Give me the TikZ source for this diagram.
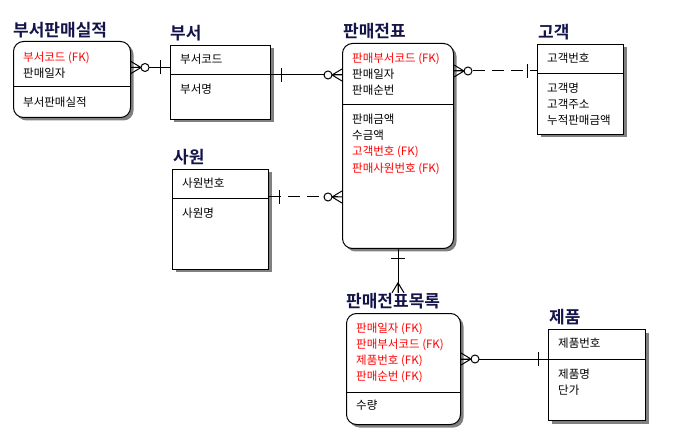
\documentclass[tikz,border=0pt]{standalone}
\usepackage{fontspec}
\setmainfont{Noto Sans CJK KR}[BoldFont={Noto Sans CJK KR Bold}]
\usepackage{xcolor}
\usepackage{tikz}
\usetikzlibrary{positioning, shadows}
\definecolor{fkred}{HTML}{FF0000}
\definecolor{titlenavy}{HTML}{14144A}

\tikzset{
  entity/.style={draw, line width=1pt, fill=white, inner sep=0pt, anchor=north west,
    drop shadow={shadow xshift=3pt, shadow yshift=-3pt, fill=black!50, opacity=1}},
  weak/.style={entity, rounded corners=10pt},
  title/.style={anchor=west, inner sep=0pt, text=titlenavy,
    font=\fontsize{17}{20}\selectfont\bfseries, text height=14.5pt, text depth=1.5pt},
  row/.style={anchor=west, inner sep=0pt,
    font=\fontsize{11.5}{13}\selectfont, text height=9.8pt, text depth=1pt},
  fk/.style={row, text=fkred},
  rel/.style={line width=1pt},
  nonid/.style={rel, dash pattern=on 12pt off 7pt},
  zeromany/.pic={
    \draw[line width=1pt] (0,-6) -- (10,0) -- (0,6) (0,0) -- (10,0);
    \draw[line width=1pt, fill=white] (14,0) circle (4);},
  onemany/.pic={
    \draw[line width=1pt] (0,-6) -- (10,0) -- (0,6) (0,0) -- (10,0);},
  onebar/.pic={
    \draw[line width=1pt] (10,-7) -- (10,7);}
}

\begin{document}
\begin{tikzpicture}[x=1pt, y=-1pt]
  \fill[white] (0,0) rectangle (679,443);
  \useasboundingbox (0,0) rectangle (679,443);

  % entities
  \node[weak, minimum width=117pt, minimum height=76pt] (bsjs) at (13,41) {};
  \node[title] (bsjsT) at (13,30) {부서판매실적};
  \draw[rel] (bsjs.west |- 0,87) -- (bsjs.east |- 0,87);
  \node[fk] (bsjs-a1) at (23,57) {부서코드 (FK)};
  \node[row] (bsjs-a2) at (23,73) {판매일자};
  \node[row] (bsjs-b1) at (23,102) {부서판매실적};

  \node[entity, minimum width=100pt, minimum height=74pt] (bs) at (170,45) {};
  \node[title] (bsT) at (170,33) {부서};
  \draw[rel] (bs.west |- 0,75) -- (bs.east |- 0,75);
  \node[row] (bs-a1) at (180,59) {부서코드};
  \node[row] (bs-b1) at (180,89) {부서명};

  \node[weak, minimum width=111pt, minimum height=205pt] (pmjp) at (342,43) {};
  \node[title] (pmjpT) at (343,31) {판매전표};
  \draw[rel] (pmjp.west |- 0,105) -- (pmjp.east |- 0,105);
  \foreach \s/\t [count=\i] in {fk/판매부서코드 (FK), row/판매일자, row/판매순번}
    \node[\s] (pmjp-a\i) at (352,{58+16*(\i-1)}) {\t};
  \foreach \s/\t [count=\i] in {row/판매금액, row/수금액, fk/고객번호 (FK), fk/판매사원번호 (FK)}
    \node[\s] (pmjp-b\i) at (352,{119+16.3*(\i-1)}) {\t};

  \node[entity, minimum width=86pt, minimum height=90pt] (gk) at (537,44) {};
  \node[title] (gkT) at (538,32) {고객};
  \draw[rel] (gk.west |- 0,74) -- (gk.east |- 0,74);
  \node[row] (gk-a1) at (547,58) {고객번호};
  \foreach \t [count=\i] in {고객명, 고객주소, 누적판매금액}
    \node[row] (gk-b\i) at (547,{88+16*(\i-1)}) {\t};

  \node[entity, minimum width=96pt, minimum height=100pt] (sw) at (172,169) {};
  \node[title] (swT) at (173,157) {사원};
  \draw[rel] (sw.west |- 0,199) -- (sw.east |- 0,199);
  \node[row] (sw-a1) at (182,183) {사원번호};
  \node[row] (sw-b1) at (182,213) {사원명};

  \node[weak, minimum width=114pt, minimum height=111pt] (pmjpml) at (346,313) {};
  \node[title] (pmjpmlT) at (346,301) {판매전표목록};
  \draw[rel] (pmjpml.west |- 0,392) -- (pmjpml.east |- 0,392);
  \foreach \t [count=\i] in {판매일자 (FK), 판매부서코드 (FK), 제품번호 (FK), 판매순번 (FK)}
    \node[fk] (pmjpml-a\i) at (356,{328+16*(\i-1)}) {\t};
  \node[row] (pmjpml-b1) at (356,405) {수량};

  \node[entity, minimum width=97pt, minimum height=91pt] (jp) at (548,329) {};
  \node[title] (jpT) at (549,317) {제품};
  \draw[rel] (jp.west |- 0,359) -- (jp.east |- 0,359);
  \node[row] (jp-a1) at (558,343) {제품번호};
  \node[row] (jp-b1) at (558,374) {제품명};
  \node[row] (jp-b2) at (558,390) {단가};

  % relationships
  \coordinate (y1) at (0,67.5);
  \coordinate (y2) at (0,75);
  \coordinate (y3) at (0,71);
  \coordinate (y4) at (0,197);
  \coordinate (x5) at (398,0);
  \coordinate (y6) at (0,359);

  \draw[rel] (bsjs.east |- y1) -- (bs.west |- y1);
  \pic at (bsjs.east |- y1) {zeromany};
  \pic[rotate=180] at (bs.west |- y1) {onebar};

  \draw[rel] (bs.east |- y2) -- (pmjp.west |- y2);
  \pic at (bs.east |- y2) {onebar};
  \pic[rotate=180] at (pmjp.west |- y2) {zeromany};

  \draw[nonid] (pmjp.east |- y3) -- (gk.west |- y3);
  \pic at (pmjp.east |- y3) {zeromany};
  \pic[rotate=180] at (gk.west |- y3) {onebar};

  \draw[nonid] (sw.east |- y4) -- (pmjp.west |- y4);
  \pic at (sw.east |- y4) {onebar};
  \pic[rotate=180] at (pmjp.west |- y4) {zeromany};

  \draw[rel] (pmjp.south -| x5) -- (pmjpmlT.north -| x5);
  \pic[rotate=-90] at (pmjp.south -| x5) {onebar};
  \pic[rotate=90] at (pmjpmlT.north -| x5) {onemany};

  \draw[rel] (pmjpml.east |- y6) -- (jp.west |- y6);
  \pic at (pmjpml.east |- y6) {zeromany};
  \pic[rotate=180] at (jp.west |- y6) {onebar};
\end{tikzpicture}
\end{document}
